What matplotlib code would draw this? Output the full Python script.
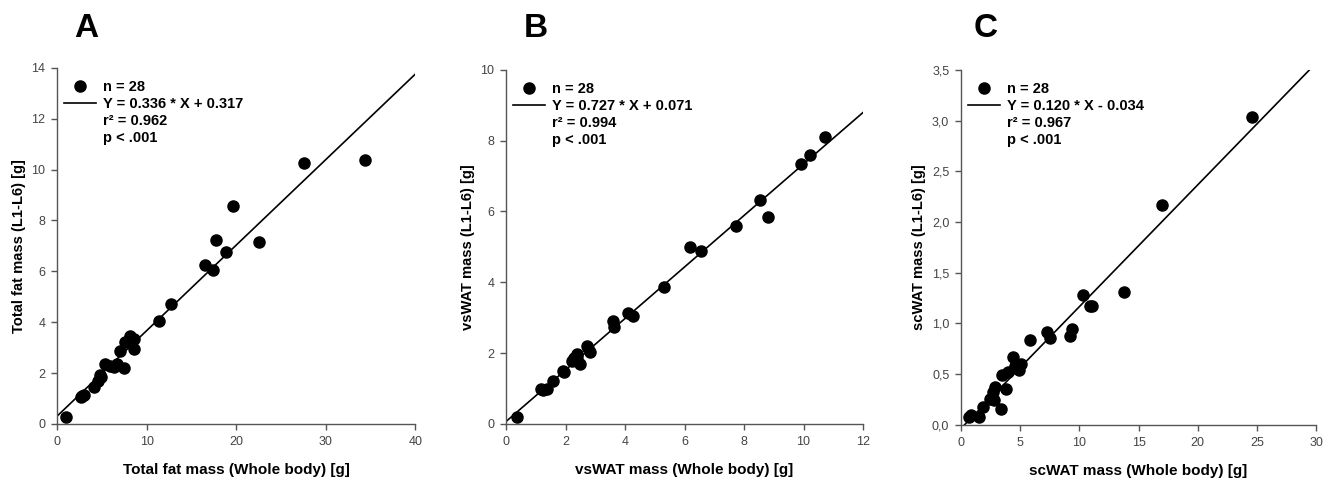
import numpy as np
import matplotlib
matplotlib.use("Agg")
import matplotlib.pyplot as plt
from matplotlib.lines import Line2D
from matplotlib.ticker import FuncFormatter

plt.rcParams['font.family'] = ['Liberation Sans', 'DejaVu Sans']

# Panel A - total fat mass
fat_whole = [1.0, 2.7, 3.0, 2.8, 4.1, 4.6, 4.8, 4.9, 5.3, 5.9, 6.3, 6.7, 7.4, 7.0,
             7.6, 8.1, 8.6, 8.6, 11.4, 12.7, 16.5, 17.4, 17.7, 18.8, 19.6, 22.5, 27.6, 34.4]
fat_l16 = [0.28, 1.05, 1.15, 1.10, 1.45, 1.70, 1.94, 1.85, 2.35, 2.26, 2.23, 2.36, 2.22, 2.88,
           3.21, 3.45, 3.34, 2.95, 4.06, 4.73, 6.26, 6.07, 7.23, 6.75, 8.56, 7.16, 10.26, 10.39]

# Panel B - vsWAT
vs_whole = [0.38, 1.17, 1.37, 1.57, 1.91, 1.95, 2.21, 2.30, 2.38, 2.49, 2.71, 2.75, 2.83, 3.61,
            3.63, 4.11, 4.26, 5.31, 6.19, 6.55, 7.72, 8.52, 8.82, 9.91, 10.22, 10.73, 1.25, 2.40]
vs_l16 = [0.19, 0.99, 0.99, 1.20, 1.51, 1.48, 1.77, 1.85, 1.98, 1.69, 2.21, 2.15, 2.03, 2.90,
          2.73, 3.13, 3.06, 3.86, 4.99, 4.89, 5.60, 6.33, 5.84, 7.35, 7.60, 8.09, 0.97, 1.90]

# Panel C - scWAT
sc_whole = [0.70, 1.55, 1.83, 2.48, 2.81, 2.90, 3.41, 3.46, 3.83, 3.94, 4.39, 4.59, 4.87, 5.07,
            5.85, 7.26, 7.49, 9.18, 9.37, 10.30, 10.87, 11.06, 13.79, 16.97, 24.57, 0.80, 4.75, 2.70]
sc_l16 = [0.08, 0.08, 0.18, 0.26, 0.25, 0.37, 0.16, 0.49, 0.35, 0.52, 0.67, 0.58, 0.54, 0.60,
          0.84, 0.92, 0.86, 0.88, 0.95, 1.28, 1.17, 1.17, 1.31, 2.17, 3.03, 0.10, 0.56, 0.32]

slopes = [0.336, 0.727, 0.120]
intercepts = [0.317, 0.071, -0.034]
r2_values = ['0.962', '0.994', '0.967']
letters = ['A', 'B', 'C']
xlabels = ['Total fat mass (Whole body) [g]', 'vsWAT mass (Whole body) [g]', 'scWAT mass (Whole body) [g]']
ylabels = ['Total fat mass (L1-L6) [g]', 'vsWAT mass (L1-L6) [g]', 'scWAT mass (L1-L6) [g]']
xmax = [40, 12, 30]
ymax = [14, 10, 3.5]
xsteps = [10, 2, 5]
ysteps = [2, 2, 0.5]

xs = [fat_whole, vs_whole, sc_whole]
ys = [fat_l16, vs_l16, sc_l16]

fig = plt.figure(figsize=(13.3, 4.78), dpi=100)
# axes rectangles in figure fractions
rects = [[0.0431, 0.113, 0.2692, 0.745],
         [0.3805, 0.113, 0.2684, 0.741],
         [0.7226, 0.111, 0.2669, 0.743]]
letter_x = [0.065, 0.403, 0.741]

for i in range(3):
    ax = fig.add_axes(rects[i])
    ax.plot(xs[i], ys[i], 'o', color='black', markersize=8, linestyle='none', clip_on=False, zorder=3)
    xx = np.array([0, xmax[i]])
    ax.plot(xx, slopes[i] * xx + intercepts[i], color='black', linewidth=1.2)
    ax.set_xlim(0, xmax[i])
    ax.set_ylim(0, ymax[i])
    ax.set_xticks(np.arange(0, xmax[i] + 0.001, xsteps[i]))
    ax.set_yticks(np.arange(0, ymax[i] + 0.001, ysteps[i]))
    if i == 2:
        ax.yaxis.set_major_formatter(FuncFormatter(lambda v, p: f'{v:.1f}'.replace('.', ',')))
    for s in ['top', 'right']:
        ax.spines[s].set_visible(False)
    for s in ['left', 'bottom']:
        ax.spines[s].set_color('#555555')
        ax.spines[s].set_linewidth(1.0)
    ax.tick_params(direction='out', length=4, width=1, color='#555555', labelcolor='#444444',
                   labelsize=9, pad=4.5)
    ax.set_xlabel(xlabels[i], fontsize=11, fontweight='bold', labelpad=11)
    ax.set_ylabel(ylabels[i], fontsize=10.6, fontweight='bold', labelpad=4)

    sign = '+' if intercepts[i] >= 0 else '-'
    handles = [Line2D([], [], marker='o', color='black', linestyle='none', markersize=8),
               Line2D([], [], color='black', linewidth=1.2),
               Line2D([], [], linestyle='none'),
               Line2D([], [], linestyle='none')]
    labels = ['n = 28',
              f'Y = {slopes[i]:.3f} * X {sign} {abs(intercepts[i]):.3f}',
              f'r\u00b2 = {r2_values[i]}',
              'p < .001']
    ax.legend(handles, labels, loc='upper left', bbox_to_anchor=(0.0, 0.985), frameon=False,
              prop={'weight': 'bold', 'size': 10.5}, handlelength=2.2, handletextpad=0.48,
              labelspacing=0.2, borderpad=0.48, borderaxespad=0.0)

    fig.text(letter_x[i], 0.94, letters[i], fontsize=24, fontweight='bold', ha='center', va='center')

fig.savefig('out.png', dpi=100)
